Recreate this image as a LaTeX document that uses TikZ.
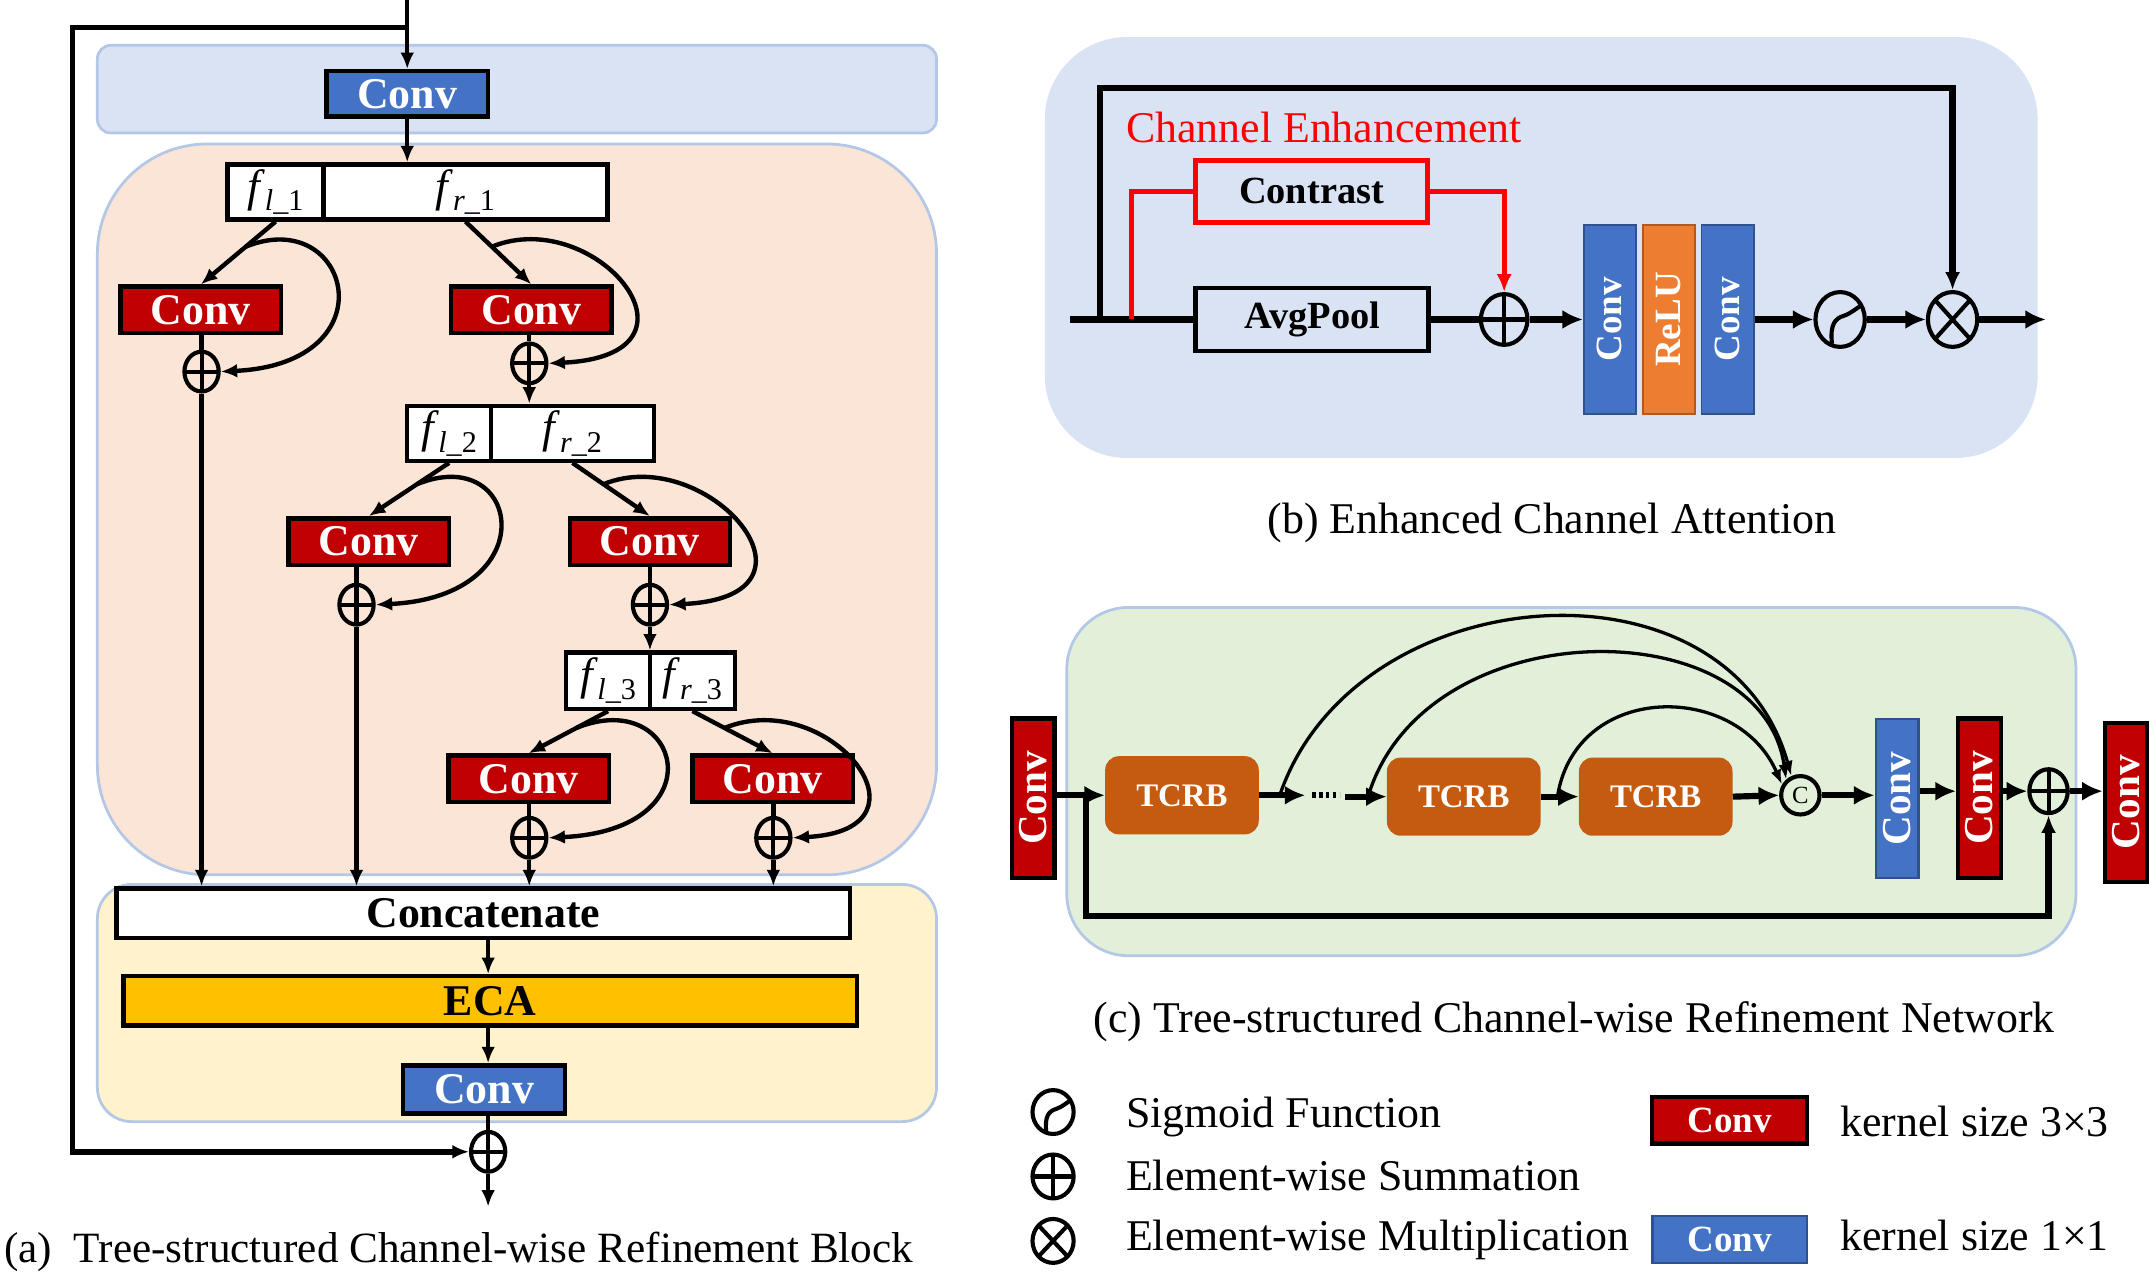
\documentclass[tikz,border=0pt]{standalone}
\usepackage{fontspec}
\setmainfont{Liberation Serif}
\usepackage{graphicx}
\usetikzlibrary{arrows.meta,shapes.geometric,calc}
\definecolor{cred}{HTML}{C00000}
\definecolor{cblue}{HTML}{4472C4}
\definecolor{cbluebd}{HTML}{2F528F}
\definecolor{ecac}{HTML}{FFC000}
\definecolor{reluc}{HTML}{ED7D31}
\definecolor{relubd}{HTML}{AE5A21}
\definecolor{tcrbc}{HTML}{C55A11}
\definecolor{bandblue}{HTML}{DAE3F3}
\definecolor{bandbord}{HTML}{B4C7E7}
\definecolor{peach}{HTML}{FBE5D6}
\definecolor{yellowbg}{HTML}{FFF2CC}
\definecolor{greenbg}{HTML}{E2F0D9}
\newcommand\fsz[1]{\fontsize{#1}{#1}\selectfont}
\newcommand\flab[2]{{\fsz{33}\textit{f}}\kern-0.5pt\raisebox{-7pt}{\fsz{22}\textit{#1}\_#2}}
\begin{document}
\begin{tikzpicture}[x=1pt,y=-1pt,
  ln/.style={line width=3.2pt},
  arr/.style={ln,-{Latex[length=12pt,width=10pt]}},
  tharr/.style={line width=4.5pt,-{Latex[length=15pt,width=14pt]}},
  thinarr/.style={line width=2.4pt,-{Latex[length=11pt,width=8pt]}},
  boxx/.style={draw=black,line width=3.2pt,inner sep=0pt,minimum height=34pt},
  cthree/.style={boxx,fill=cred,text=white,font=\fsz{32}\bfseries,minimum width=117pt},
  cone/.style={boxx,fill=cblue,text=white,font=\fsz{32}\bfseries,minimum width=118pt},
  cellb/.style={draw=black,line width=3.2pt,fill=white,inner sep=0pt,minimum height=40pt},
  oplus/.style={ellipse,draw=black,line width=3pt,inner sep=0pt,minimum width=25pt,minimum height=29pt,
    path picture={\draw[line width=3pt] (path picture bounding box.north) -- (path picture bounding box.south)
      (path picture bounding box.west) -- (path picture bounding box.east);}},
  otimes/.style={ellipse,draw=black,line width=3pt,inner sep=0pt,
    path picture={\draw[line width=3pt] (path picture bounding box.north west) -- (path picture bounding box.south east)
      (path picture bounding box.north east) -- (path picture bounding box.south west);}},
  sig/.style={ellipse,draw=black,line width=3pt,inner sep=0pt,
    path picture={\begin{scope}[shift={(path picture bounding box.center)},x=#1,y=-#1]
      \draw[line width=3pt] (-0.33,0.98) .. controls (-0.42,0.2) and (-0.2,-0.05) .. (0.15,-0.15)
        .. controls (0.45,-0.25) and (0.65,-0.45) .. (0.9,-0.6);
      \end{scope}}},
  barb/.style={line width=1.2pt,minimum width=38pt,minimum height=138pt,inner sep=0pt,text=white,font=\fsz{27}\bfseries},
  vbar/.style={minimum width=31pt,minimum height=116pt,inner sep=0pt,text=white,font=\fsz{30}\bfseries},
  tcb/.style={fill=tcrbc,rounded corners=10pt,minimum width=112pt,minimum height=57pt,text=white,font=\fsz{24}\bfseries,inner sep=0pt},
  txt/.style={font=\fsz{32},inner sep=0pt}
]
\useasboundingbox (0,0) rectangle (1568,931);
% ---------- backgrounds
\draw[fill=bandblue,draw=bandbord,line width=2pt,rounded corners=10pt] (71,33) rectangle (683,97);
\draw[fill=peach,draw=bandbord,line width=2pt,rounded corners=80pt] (71,105) rectangle (683,638);
\draw[fill=yellowbg,draw=bandbord,line width=2pt,rounded corners=25pt] (71,645) rectangle (683,818);
\fill[bandblue,rounded corners=60pt] (762,27) rectangle (1486,334);
\draw[fill=greenbg,draw=bandbord,line width=2pt,rounded corners=45pt] (778,443) rectangle (1514,697);

% ---------- (a)
\coordinate (ain) at (297,0);
\coordinate (afb) at (297,20);
\coordinate (acor) at (53,20);
\node[cone,minimum height=33pt] (aconv) at (297,68.5) {Conv};
\node[cellb,minimum width=70pt] (s1l) at (201,140) {\flab{l}{1}};
\node[cellb,minimum width=207pt] (s1r) at (339.5,140) {\flab{r}{1}};
\node[cthree] (cl1) at (146.5,226) {Conv};
\node[cthree] (cr1) at (387.5,226) {Conv};
\node[oplus] (pl1) at (147,271) {};
\node[oplus] (pr1) at (386,265) {};
\node[cellb,minimum width=61pt] (s2l) at (327.5,316) {\flab{l}{2}};
\node[cellb,minimum width=119pt] (s2r) at (417.5,316) {\flab{r}{2}};
\node[cthree] (cl2) at (269,395) {Conv};
\node[cthree] (cr2) at (474,395) {Conv};
\node[oplus] (pl2) at (260,441) {};
\node[oplus] (pr2) at (474,441) {};
\node[cellb,minimum width=61pt,minimum height=41pt] (s3l) at (443.5,496.5) {\flab{l}{3}};
\node[cellb,minimum width=62pt,minimum height=41pt] (s3r) at (505,496.5) {\flab{r}{3}};
\node[cthree] (cl3) at (385.5,568) {Conv};
\node[cthree] (cr3) at (563.5,568) {Conv};
\node[oplus] (pl3) at (386,611) {};
\node[oplus] (pr3) at (564,611) {};
\node[boxx,fill=white,minimum width=535pt,minimum height=36pt,font=\fsz{32}\bfseries] (concat) at (352.5,666) {Concatenate};
\node[boxx,fill=ecac,minimum width=535pt,minimum height=36pt,font=\fsz{32}\bfseries] (eca) at (357.5,730) {ECA};
\node[cone,minimum height=35pt] (aconv2) at (353,794.5) {Conv};
\node[oplus] (asum) at (356,840) {};
\coordinate (aout) at (356,880);

\draw[arr] (ain) -- (aconv.north);
\draw[arr] (aconv.south) -- (aconv.south |- s1r.north);
\draw[line width=4pt,-{Latex[length=12pt,width=10pt]}] (afb) -- (acor) |- (asum.west);
% level 1
\draw[arr] (s1l.south) -- (cl1.north);
\draw[arr] (s1r.south) -- (cr1.north);
\draw[ln] (pl1 |- cl1.south) -- (pl1.north);
\draw[ln] (pr1 |- cr1.south) -- (pr1.north);
\coordinate (ll1) at ($(s1l.south)!0.4!(cl1.north)$);
\coordinate (lr1) at ($(s1r.south)!0.4!(cr1.north)$);
\draw[arr] (ll1) .. controls +(76,-31) and +(125,-6) .. (pl1.east);
\draw[arr] (lr1) .. controls +(76,-31) and +(125,-6) .. (pr1.east);
\draw[arr] (pl1.south) -- (pl1.south |- concat.north);
\draw[arr] (pr1.south) -- (pr1.south |- s2r.north);
% level 2
\draw[arr] (s2l.south) -- (cl2.north);
\draw[arr] (s2r.south) -- (cr2.north);
\draw[ln] (pl2 |- cl2.south) -- (pl2.north);
\draw[ln] (pr2 |- cr2.south) -- (pr2.north);
\coordinate (ll2) at ($(s2l.south)!0.4!(cl2.north)$);
\coordinate (lr2) at ($(s2r.south)!0.4!(cr2.north)$);
\draw[arr] (ll2) .. controls +(76,-31) and +(125,-6) .. (pl2.east);
\draw[arr] (lr2) .. controls +(76,-31) and +(125,-6) .. (pr2.east);
\draw[arr] (pl2.south) -- (pl2.south |- concat.north);
\draw[arr] (pr2.south) -- (pr2.south |- s3l.north);
% level 3
\draw[arr] (s3l.south) -- (cl3.north);
\draw[arr] (s3r.south) -- (cr3.north);
\draw[ln] (pl3 |- cl3.south) -- (pl3.north);
\draw[ln] (pr3 |- cr3.south) -- (pr3.north);
\coordinate (ll3) at ($(s3l.south)!0.4!(cl3.north)$);
\coordinate (lr3) at ($(s3r.south)!0.4!(cr3.north)$);
\draw[arr] (ll3) .. controls +(76,-31) and +(125,-6) .. (pl3.east);
\draw[arr] (lr3) .. controls +(76,-31) and +(110,-6) .. (pr3.east);
\draw[arr] (pl3.south) -- (pl3.south |- concat.north);
\draw[arr] (pr3.south) -- (pr3.south |- concat.north);
% tail
\draw[arr] (concat.south -| asum) -- (eca.north -| asum);
\draw[arr] (eca.south -| asum) -- (aconv2.north -| asum);
\draw[ln] (aconv2.south -| asum) -- (asum.north);
\draw[arr] (asum.south) -- (aout);
\node[txt,anchor=base west,font=\fsz{31.5}] (capa) at (3,921) {(a)\ \ Tree-structured Channel-wise Refinement Block};

% ---------- (b)
\coordinate (bin) at (780,233);
\coordinate (bsk) at (802,233);
\coordinate (bskt) at (802,64);
\coordinate (brd) at (825,233);
\coordinate (bout) at (1492,233);
\node[draw=black,line width=3.5pt,minimum width=170pt,minimum height=46pt,inner sep=0pt,font=\fsz{28}\bfseries] (avg) at (957,233) {AvgPool};
\node[draw=red,line width=3.5pt,minimum width=169pt,minimum height=45pt,inner sep=0pt,font=\fsz{28}\bfseries] (contr) at (956.5,139.5) {Contrast};
\node[txt,anchor=base west,text=red] (chen) at (821,104) {Channel Enhancement};
\node[oplus,minimum width=34pt,minimum height=37pt] (badd) at (1097,233) {};
\node[barb,fill=cblue,draw=cbluebd] (bc1) at (1174,233) {\rotatebox{90}{Conv}};
\node[barb,fill=reluc,draw=relubd] (brelu) at (1217,233) {\rotatebox{90}{ReLU}};
\node[barb,fill=cblue,draw=cbluebd] (bc2) at (1260,233) {\rotatebox{90}{Conv}};
\node[sig=18pt,minimum width=36pt,minimum height=40pt] (bsig) at (1342,233) {};
\node[otimes,minimum width=36pt,minimum height=40pt] (bmul) at (1424,233) {};
\draw[line width=4.5pt] (bin) -- (avg.west);
\draw[line width=4.5pt] (avg.east) -- (badd.west);
\draw[line width=4.5pt,-{Latex[length=13pt,width=11pt]}] (bsk) -- (bskt) -| (bmul.north);
\draw[red,line width=3.5pt] (brd) |- (contr.west);
\draw[red,line width=3.5pt,-{Latex[length=13pt,width=11pt]}] (contr.east) -| (badd.north);
\draw[tharr] (badd.east) -- (bc1.west);
\draw[tharr] (bc2.east) -- (bsig.west);
\draw[tharr] (bsig.east) -- (bmul.west);
\draw[tharr] (bmul.east) -- (bout);
\node[txt,anchor=base] (capb) at (1132,389) {(b) Enhanced Channel Attention};

% ---------- (c)
\node[vbar,fill=cred,draw=black,line width=3pt] (cc1) at (753.5,582) {\rotatebox{90}{Conv}};
\node[tcb] (t1) at (862,580) {TCRB};
\node[tcb] (t2) at (1067.5,581) {TCRB};
\node[tcb] (t3) at (1207.5,581) {TCRB};
\node[circle,draw=black,line width=3pt,minimum size=28pt,inner sep=0pt,font=\fsz{18}] (ccat) at (1313,580) {C};
\node[vbar,fill=cblue,draw=cbluebd,line width=1.8pt] (ccb) at (1383.5,582.5) {\rotatebox{90}{Conv}};
\node[vbar,fill=cred,draw=black,line width=3pt] (cc2) at (1443.5,582) {\rotatebox{90}{Conv}};
\node[oplus,minimum width=28pt,minimum height=32pt] (cadd) at (1494,577) {};
\node[vbar,fill=cred,draw=black,line width=3pt] (cc3) at (1550.5,585) {\rotatebox{90}{Conv}};
\coordinate (cbr) at (792,580);
\coordinate (cbot) at (792,668);
\coordinate (c1e) at (952,580);
\coordinate (cd1) at (957,580);
\coordinate (cd2) at (977,580);
\coordinate (c2s) at (981,581);
\coordinate (ca1) at (934,578);
\coordinate (ca2) at (998,580);
\coordinate (ca3) at (1136,580);
\draw[tharr] (cc1.east |- t1) -- (t1.west);
\draw[line width=4.5pt,-{Latex[length=13pt,width=11pt]}] (cbr) -- (cbot) -| (cadd.south);
\draw[tharr] (t1.east) -- (c1e);
\draw[line width=4.5pt,dash pattern=on 2.5pt off 2.5pt] (cd1) -- (cd2);
\draw[tharr] (c2s) -- (t2.west);
\draw[tharr] (t2.east) -- (t3.west);
\draw[tharr] (t3.east) -- (ccat.west);
\draw[tharr] (ccat.east) -- (ccb.west |- ccat);
\draw[tharr] (ccb.east |- cadd) -- (cc2.west |- cadd);
\draw[tharr] (cc2.east |- cadd) -- (cadd.west);
\draw[tharr] (cadd.east) -- (cc3.west |- cadd);
\draw[thinarr] (ca1) .. controls (990,420) and (1260,400) .. (ccat.115);
\draw[thinarr] (ca2) .. controls (1040,444) and (1285,444) .. (ccat.132);
\draw[thinarr] (ca3) .. controls (1150,497) and (1267,497) .. (ccat.150);
\node[txt,anchor=base] (capc) at (1148,753) {(c) Tree-structured Channel-wise Refinement Network};

% ---------- legend
\node[sig=15pt,minimum width=30pt,minimum height=32pt] (lsig) at (768,811) {};
\node[oplus,minimum width=30pt,minimum height=32pt] (lsum) at (768,858) {};
\node[otimes,minimum width=30pt,minimum height=32pt] (lmul) at (768,905) {};
\node[txt,anchor=base west] (lt1) at (821,822) {Sigmoid Function};
\node[txt,anchor=base west] (lt2) at (821,868) {Element-wise Summation};
\node[txt,anchor=base west] (lt3) at (821,912) {Element-wise Multiplication};
\node[boxx,fill=cred,text=white,minimum width=113pt,minimum height=34pt,font=\fsz{27}\bfseries] (lc3) at (1261.5,817) {Conv};
\node[boxx,fill=cblue,draw=cbluebd,line width=1.8pt,text=white,minimum width=113pt,minimum height=34pt,font=\fsz{27}\bfseries] (lc1) at (1261.5,904) {Conv};
\node[txt,anchor=base west] (lk3) at (1342,829) {kernel size 3×3};
\node[txt,anchor=base west] (lk1) at (1342,912) {kernel size 1×1};
\end{tikzpicture}
\end{document}
